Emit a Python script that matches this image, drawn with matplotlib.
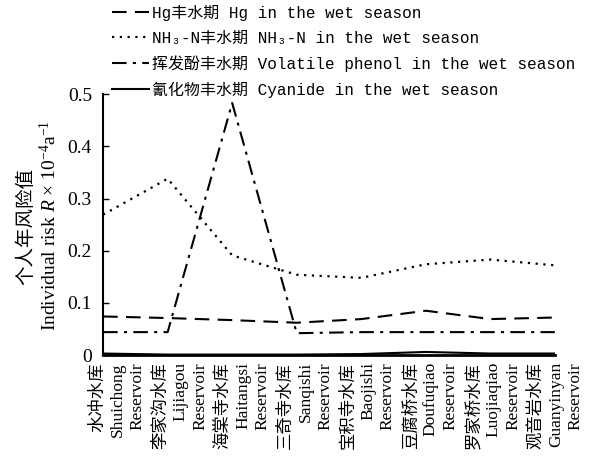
import matplotlib
matplotlib.use("Agg")
import matplotlib.pyplot as plt
import matplotlib.transforms as mtransforms

plt.rcParams['font.family'] = ['Liberation Serif', 'Noto Sans CJK SC', 'DejaVu Serif']
plt.rcParams['mathtext.fontset'] = 'custom'
plt.rcParams['mathtext.rm'] = 'Liberation Serif'
plt.rcParams['mathtext.it'] = 'Liberation Serif:italic'
plt.rcParams['axes.unicode_minus'] = False

# Reservoirs (Chinese name, pinyin)
names_cn = ['水冲水库', '李家沟水库', '海棠寺水库', '三奇寺水库',
            '宝积寺水库', '豆腐桥水库', '罗家桥水库', '观音岩水库']
names_en = ['Shuichong', 'Lijiagou', 'Haitangsi', 'Sanqishi',
            'Baojishi', 'Doufuqiao', 'Luojiaqiao', 'Guanyinyan']

# Individual risk, 10^-4 a^-1, wet season
hg = [0.074, 0.071, 0.067, 0.062, 0.069, 0.085, 0.069, 0.072]
nh3n = [0.269, 0.338, 0.191, 0.154, 0.148, 0.174, 0.183, 0.172]
phenol = [0.044, 0.044, 0.483, 0.042, 0.044, 0.044, 0.044, 0.044]
cyanide = [0.003, 0.001, 0.001, 0.001, 0.002, 0.006, 0.003, 0.003]

series_labels = ['Hg丰水期 Hg in the wet season',
                 'NH₃-N丰水期 NH₃-N in the wet season',
                 '挥发酚丰水期 Volatile phenol in the wet season',
                 '氰化物丰水期 Cyanide in the wet season']

fig = plt.figure(figsize=(5.96, 4.66), dpi=100)
ax = fig.add_axes([0.173, 0.238, 0.758, 0.560])

x = list(range(len(names_en)))
ax.plot(x, hg, color='black', lw=1.5, dashes=(7, 4), label=series_labels[0])
ax.plot(x, nh3n, color='black', lw=1.6, dashes=(1, 2.5), label=series_labels[1])
ax.plot(x, phenol, color='black', lw=1.5, dashes=(7, 3, 1.5, 3), label=series_labels[2])
ax.plot(x, cyanide, color='black', lw=1.5, label=series_labels[3])

ax.set_xlim(0, len(x) - 1)
ax.set_ylim(0, 0.5)
ax.spines['top'].set_visible(False)
ax.spines['right'].set_visible(False)
ax.spines['left'].set_linewidth(1.5)
ax.spines['bottom'].set_linewidth(2.0)

ax.set_yticks([0, 0.1, 0.2, 0.3, 0.4, 0.5])
ax.set_yticklabels(['0', '0.1', '0.2', '0.3', '0.4', '0.5'], fontsize=14)
ax.tick_params(axis='y', direction='in', length=4, width=1, pad=8)

ax.set_xticks(x)
ax.set_xticklabels([f'{c}\n{e}\nReservoir' for c, e in zip(names_cn, names_en)],
                   rotation=90, fontsize=12.5, linespacing=1.3,
                   multialignment='right', va='top', ha='center')
ax.tick_params(axis='x', length=0, pad=5)
for i, lab in enumerate(ax.get_xticklabels()):
    lab.set_transform(lab.get_transform() +
                      mtransforms.ScaledTranslation((15 - 2 * i) / 100, 0, fig.dpi_scale_trans))

fig.text(0.065, 0.515, '个人年风险值\nIndividual risk $R$ × 10$^{-4}$a$^{-1}$',
         rotation=90, ha='center', va='center', fontsize=14, linespacing=1.2,
         multialignment='center')

leg = ax.legend(loc='upper left', bbox_to_anchor=(112 / 596, 1 - 5 / 466),
                bbox_transform=fig.transFigure, frameon=False,
                prop={'family': ['Liberation Mono', 'Noto Sans CJK SC', 'DejaVu Sans Mono'],
                      'size': 11.5},
                handlelength=2.3, handletextpad=0.2, labelspacing=0.6,
                borderpad=0, borderaxespad=0)

fig.savefig('out.png', dpi=100)
